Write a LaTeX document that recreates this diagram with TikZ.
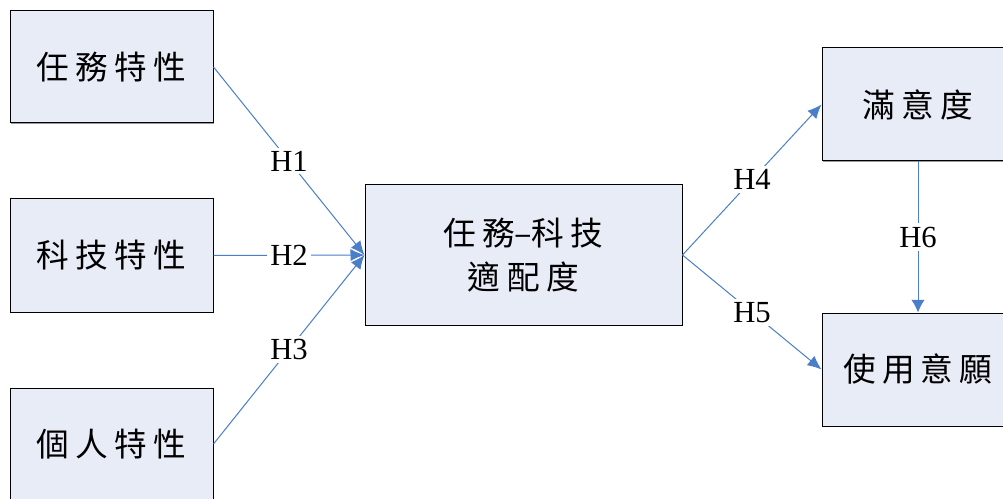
\documentclass[tikz,border=0pt]{standalone}
\usepackage{fontspec}
\setmainfont{Liberation Serif}
\newfontfamily\cjk[LetterSpace=20]{Noto Sans CJK TC}
\usetikzlibrary{arrows.meta,shadows}
\definecolor{boxfill}{HTML}{E8ECF7}
\definecolor{linkblue}{HTML}{4A7EC8}
\begin{document}
\begin{tikzpicture}[x=0.75pt,y=-0.75pt,
  box/.style={draw=black, line width=0.75pt, fill=boxfill,
    drop shadow={shadow xshift=0.9pt, shadow yshift=-0.9pt, fill=gray!80, opacity=1},
    align=center, inner sep=0pt,
    font=\cjk\fontsize{24.5}{33.75}\selectfont},
  link/.style={draw=linkblue, line width=0.75pt,
    -{Latex[length=10.5pt,width=9pt]}},
  lab/.style={fill=white, inner sep=2.5pt, text=black,
    font=\fontsize{23}{23}\selectfont}]
\useasboundingbox (0,0) rectangle (1003,499);
\clip (0,0) rectangle (1003,499);
\fill[white] (0,0) rectangle (1003,499);
\node[box, minimum width=152.25pt, minimum height=84pt] (t1) at (111.5,67) {任務特性};
\node[box, minimum width=152.25pt, minimum height=84.75pt] (t2) at (111.5,255.5) {科技特性};
\node[box, minimum width=152.25pt, minimum height=84pt] (t3) at (111.5,444) {個人特性};
\node[box, minimum width=237.75pt, minimum height=105pt] (c) at (523.5,255) {任務\kern-0.5pt–\kern-0.5pt科技\\[-0.5pt]適配度};
\node[box, minimum width=144pt, minimum height=84.75pt] (s) at (918,104.5) {滿意度};
\node[box, minimum width=144pt, minimum height=84.75pt] (u) at (918,369.5) {使用\,意願};
\draw[link] (t1.east) -- node[lab] {H1} (c.west);
\draw[link] (t2.east) -- node[lab] {H2} (c.west);
\draw[link] (t3.east) -- node[lab] {H3} (c.west);
\draw[link] (c.east) -- node[lab] {H4} (s.west);
\draw[link] (c.east) -- node[lab] {H5} (u.west);
\draw[link, -{Latex[length=9.5pt,width=10pt]}] (s.south) -- node[lab] {H6} (u.north);
\end{tikzpicture}
\end{document}
